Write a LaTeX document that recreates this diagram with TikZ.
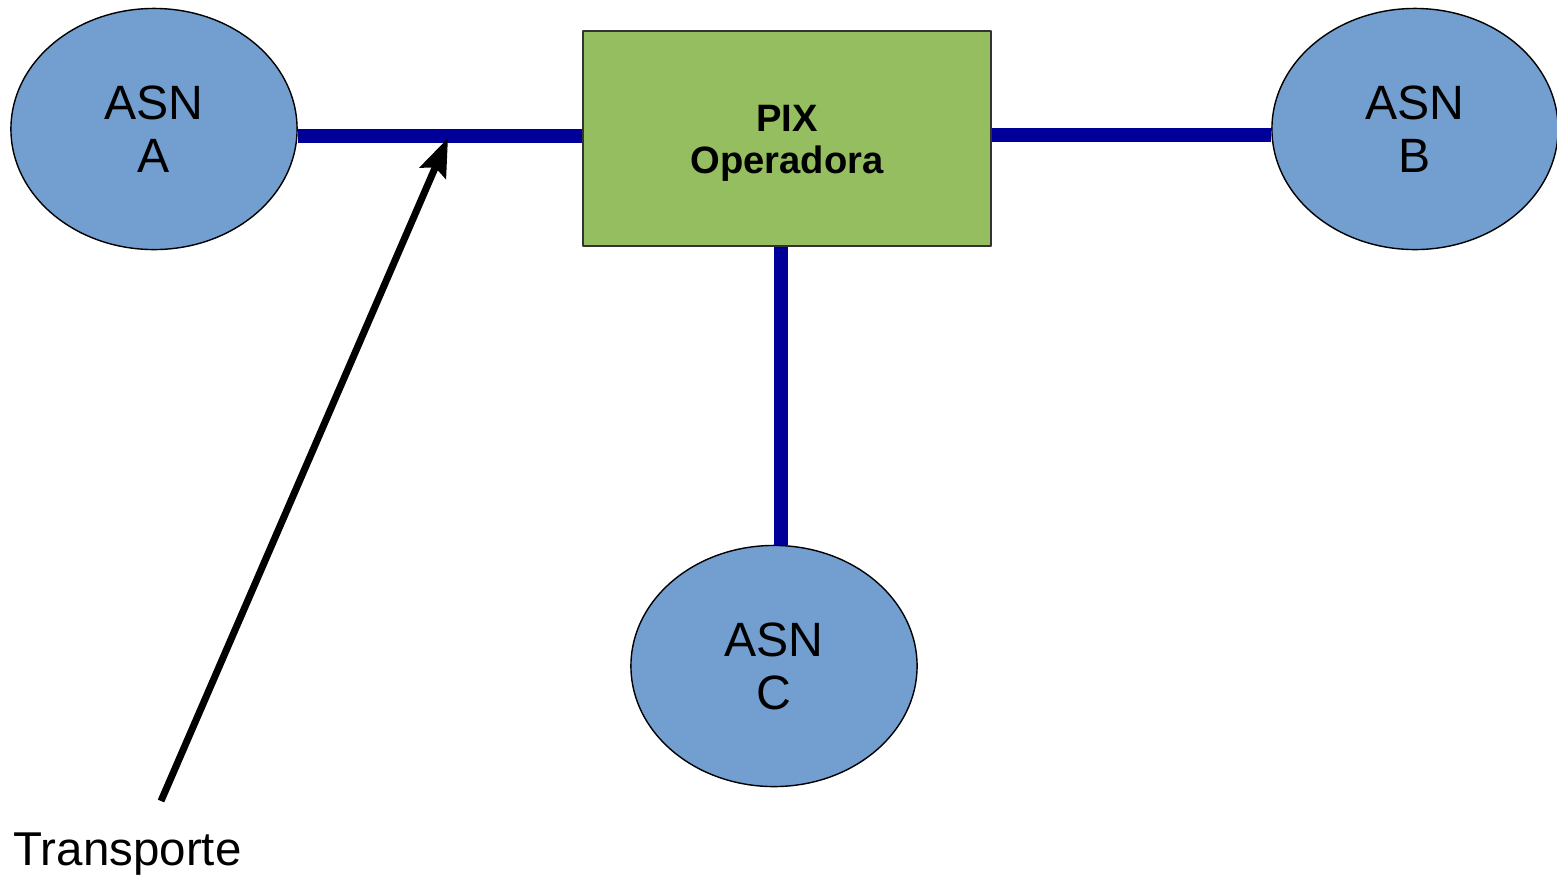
\documentclass[tikz,border=0pt]{standalone}
\usepackage{fontspec}
\setmainfont{Liberation Sans}
\usetikzlibrary{shapes.geometric,arrows.meta}
\definecolor{asnblue}{RGB}{114,159,207}
\definecolor{pixgreen}{RGB}{149,190,96}
\definecolor{linkblue}{RGB}{0,0,153}
\tikzset{
 asn/.style={ellipse, draw=black, line width=0.4pt, fill=asnblue, inner sep=0pt,
  minimum width=2.86cm, minimum height=2.41cm, align=center,
  font=\fontsize{13.7pt}{15.1pt}\selectfont},
 pixbox/.style={rectangle, draw=black!80, line width=0.4pt, fill=pixgreen, inner sep=0pt,
  minimum width=4.08cm, minimum height=2.15cm, align=center,
  font=\fontsize{10.85pt}{11.95pt}\selectfont\bfseries},
 link/.style={draw=linkblue, line width=0.14cm},
}
\begin{document}
\begin{tikzpicture}[x=0.01cm, y=-0.01cm, line join=round, >={Stealth[length=0.38cm,width=0.28cm,inset=0.06cm]}]
 \useasboundingbox (0,0) rectangle (1557,875);
 % nodes
 \node[asn] (asnA) at (154,129) {ASN\\A};
 \node[asn] (asnB) at (1415,129) {ASN\\B};
 \node[asn] (asnC) at (774,666) {ASN\\C};
 \node[pixbox] (pix) at (787,138.5) {\raisebox{-0.05cm}[\height][\depth]{\parbox{4cm}{\centering PIX\\Operadora}}};
 \node[anchor=base west, inner sep=0pt, font=\fontsize{13.5pt}{15pt}\selectfont] (transp) at (13,865) {Transporte};
 % links
 \draw[link] (asnA.east |- 0,136) -- (pix.west |- 0,136);
 \draw[link] (pix.east |- 0,134.5) -- (asnB.west |- 0,134.5);
 \draw[link] (781,0 |- pix.south) -- (781,0 |- asnC.north);
 % arrow
 \coordinate (tail) at (161,801);
 \coordinate (tip) at (448,138);
 \draw[->, line width=0.07cm] (tail) -- (tip);
\end{tikzpicture}
\end{document}
